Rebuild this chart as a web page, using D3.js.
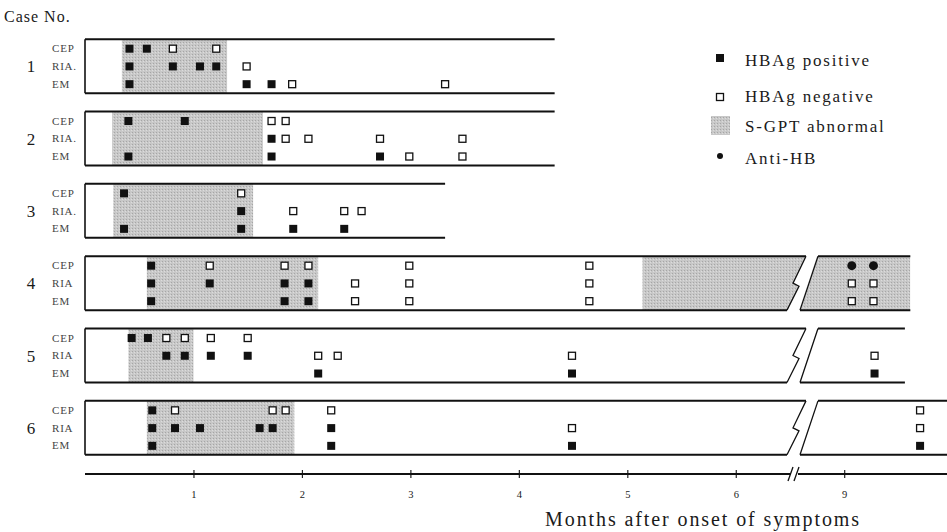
<!DOCTYPE html>
<html>
<head>
<meta charset="utf-8">
<script src="https://cdn.jsdelivr.net/npm/d3@7"></script>
<style>
  body { margin: 0; background: #fff; }
  svg { display: block; }
  text { font-family: "Liberation Serif", "DejaVu Serif", serif; fill: #1a1a1a; }
</style>
</head>
<body>
<svg id="chart" width="947" height="532"></svg>
<script>
// case data, months after onset
var cases = [1, 2, 3, 4, 5, 6];
var rows = ["CEP", "RIA", "EM"];
var rowLabels = [["CEP", "RIA.", "EM"], ["CEP", "RIA.", "EM"], ["CEP", "RIA.", "EM"],
                 ["CEP", "RIA", "EM"], ["CEP", "RIA", "EM"], ["CEP", "RIA", "EM"]];
var panelEnd = [4.33, 4.33, 3.32, 9.61, 9.56, 10.2];
var hasBreak = [false, false, false, true, true, true];
var tickMonths = [1, 2, 3, 4, 5, 6, 9];

// S-GPT abnormal periods [case, from, to]
var sgpt = [
    [1, 0.34, 1.31],
    [2, 0.25, 1.64],
    [3, 0.26, 1.55],
    [4, 0.57, 2.15], [4, 5.14, 6.8], [4, 8.3, 9.61],
    [5, 0.40, 1.00],
    [6, 0.57, 1.93]
];

// HBAg positive [case, row, month]
var positive = [
    [1, "CEP", 0.41], [1, "CEP", 0.57],
    [1, "RIA", 0.41], [1, "RIA", 0.81], [1, "RIA", 1.06], [1, "RIA", 1.21],
    [1, "EM", 0.41], [1, "EM", 1.49], [1, "EM", 1.72],
    [2, "CEP", 0.40], [2, "CEP", 0.92],
    [2, "RIA", 1.72],
    [2, "EM", 0.40], [2, "EM", 1.72], [2, "EM", 2.72],
    [3, "CEP", 0.36],
    [3, "RIA", 1.44],
    [3, "EM", 0.36], [3, "EM", 1.44], [3, "EM", 1.92], [3, "EM", 2.39],
    [4, "CEP", 0.61],
    [4, "RIA", 0.61], [4, "RIA", 1.15], [4, "RIA", 1.84], [4, "RIA", 2.06],
    [4, "EM", 0.61], [4, "EM", 1.84], [4, "EM", 2.06],
    [5, "CEP", 0.43], [5, "CEP", 0.58],
    [5, "RIA", 0.75], [5, "RIA", 0.92], [5, "RIA", 1.16], [5, "RIA", 1.50],
    [5, "EM", 2.15], [5, "EM", 4.49], [5, "EM", 9.28],
    [6, "CEP", 0.62],
    [6, "RIA", 0.62], [6, "RIA", 0.83], [6, "RIA", 1.06], [6, "RIA", 1.61], [6, "RIA", 1.73], [6, "RIA", 2.27],
    [6, "EM", 0.62], [6, "EM", 2.27], [6, "EM", 4.49], [6, "EM", 9.70]
];

// HBAg negative [case, row, month]
var negative = [
    [1, "CEP", 0.81], [1, "CEP", 1.21],
    [1, "RIA", 1.49],
    [1, "EM", 1.91], [1, "EM", 3.32],
    [2, "CEP", 1.72], [2, "CEP", 1.85],
    [2, "RIA", 1.85], [2, "RIA", 2.06], [2, "RIA", 2.72], [2, "RIA", 3.48],
    [2, "EM", 2.99], [2, "EM", 3.48],
    [3, "CEP", 1.44],
    [3, "RIA", 1.92], [3, "RIA", 2.39], [3, "RIA", 2.55],
    [4, "CEP", 1.15], [4, "CEP", 1.84], [4, "CEP", 2.06], [4, "CEP", 2.99], [4, "CEP", 4.65],
    [4, "RIA", 2.49], [4, "RIA", 2.99], [4, "RIA", 4.65], [4, "RIA", 9.07], [4, "RIA", 9.27],
    [4, "EM", 2.49], [4, "EM", 2.99], [4, "EM", 4.65], [4, "EM", 9.07], [4, "EM", 9.27],
    [5, "CEP", 0.75], [5, "CEP", 0.92], [5, "CEP", 1.16], [5, "CEP", 1.50],
    [5, "RIA", 2.15], [5, "RIA", 2.33], [5, "RIA", 4.49], [5, "RIA", 9.28],
    [6, "CEP", 0.83], [6, "CEP", 1.73], [6, "CEP", 1.85], [6, "CEP", 2.27], [6, "CEP", 9.70],
    [6, "RIA", 4.49], [6, "RIA", 9.70]
];

// Anti-HB [case, row, month]
var antiHB = [[4, "CEP", 9.07], [4, "CEP", 9.27]];

var svg = d3.select("#chart");

// broken time axis: 6.5 .. 8.5 months collapsed
var xs = d3.scaleLinear()
    .domain([0, 6.5, 8.5, 11])
    .range([85, 790, 790, 1061]);
var breakX = xs(6.5);

var ys = d3.scaleBand()
    .domain(cases)
    .range([30, 464])
    .paddingInner(0.254)
    .paddingOuter(0.127);

var rowY = d3.scalePoint()
    .domain(rows)
    .range([9.5, 45]);

// grey dotted texture for S-GPT
var defs = svg.append("defs");
var pat = defs.append("pattern")
    .attr("id", "gpt")
    .attr("width", 3).attr("height", 3)
    .attr("patternUnits", "userSpaceOnUse");
pat.append("rect").attr("width", 3).attr("height", 3).attr("fill", "#c8c8c8");
pat.append("rect").attr("x", 0).attr("y", 0).attr("width", 1).attr("height", 1).attr("fill", "#a6a6a6");
pat.append("rect").attr("x", 2).attr("y", 1).attr("width", 1).attr("height", 1).attr("fill", "#dcdcdc");

function panelPolys(i) {
    var c = cases[i],
        T = ys(c), B = T + ys.bandwidth(), M = (T + B) / 2,
        endX = xs(panelEnd[i]);
    if (!hasBreak[i]) {
        return [[[85, T], [endX, T], [endX, B], [85, B]]];
    }
    return [
        [[85, T], [breakX + 16, T], [breakX + 3, M], [breakX + 9, M + 3], [breakX - 3, B], [85, B]],
        [[breakX + 28, T], [endX, T], [endX, B], [breakX + 10, B]]
    ];
}

var line = d3.line();

cases.forEach(function (c, i) {
    var T = ys(c), B = T + ys.bandwidth(), M = (T + B) / 2;
    var polys = panelPolys(i);
    var g = svg.append("g").attr("class", "case");

    var clip = defs.append("clipPath").attr("id", "clip" + c);
    polys.forEach(function (p) {
        clip.append("path").attr("d", line(p) + "Z");
    });

    g.selectAll("rect.gpt")
        .data(sgpt.filter(function (d) { return d[0] === c; }))
        .enter().append("rect")
        .attr("class", "gpt")
        .attr("clip-path", "url(#clip" + c + ")")
        .attr("x", function (d) { return xs(d[1]); })
        .attr("width", function (d) { return xs(d[2]) - xs(d[1]); })
        .attr("y", T)
        .attr("height", B - T)
        .attr("fill", "url(#gpt)");

    // outlines: top, bottom, left, break edges
    polys.forEach(function (p, k) {
        var n = p.length;
        g.append("path").attr("d", line([p[0], p[1]]))
            .attr("stroke", "#111").attr("stroke-width", 2).attr("fill", "none");
        g.append("path").attr("d", line([p[n - 1], p[n - 2]]))
            .attr("stroke", "#111").attr("stroke-width", 2).attr("fill", "none");
        if (k === 0) {
            g.append("path").attr("d", line([p[0], p[n - 1]]))
                .attr("stroke", "#111").attr("stroke-width", 1.6).attr("fill", "none");
            if (hasBreak[i]) {
                g.append("path").attr("d", line(p.slice(1, n - 1)))
                    .attr("stroke", "#111").attr("stroke-width", 1.3).attr("fill", "none");
            }
        } else {
            g.append("path").attr("d", line([p[0], p[3]]))
                .attr("stroke", "#111").attr("stroke-width", 1.3).attr("fill", "none");
        }
    });

    // labels
    svg.append("text")
        .attr("x", 31).attr("y", M + 6)
        .attr("text-anchor", "middle")
        .attr("font-size", 17)
        .text(c);
    svg.selectAll(null)
        .data(rows)
        .enter().append("text")
        .attr("x", 52)
        .attr("y", function (r) { return T + rowY(r) + 3.5; })
        .attr("font-size", 11)
        .attr("letter-spacing", 0.8)
        .style("fill", "#444")
        .text(function (r, j) { return rowLabels[i][j]; });
});

function markY(d) { return ys(d[0]) + rowY(d[1]); }

svg.append("g").selectAll("rect")
    .data(positive)
    .enter().append("rect")
    .attr("x", function (d) { return xs(d[2]) - 4; })
    .attr("y", function (d) { return markY(d) - 4; })
    .attr("width", 8).attr("height", 8)
    .attr("fill", "#111");

svg.append("g").selectAll("rect")
    .data(negative)
    .enter().append("rect")
    .attr("x", function (d) { return xs(d[2]) - 3.5; })
    .attr("y", function (d) { return markY(d) - 3.5; })
    .attr("width", 7).attr("height", 7)
    .attr("fill", "#fff")
    .attr("stroke", "#111")
    .attr("stroke-width", 1.3);

svg.append("g").selectAll("circle")
    .data(antiHB)
    .enter().append("circle")
    .attr("cx", function (d) { return xs(d[2]); })
    .attr("cy", markY)
    .attr("r", 4.5)
    .attr("fill", "#111");

// axis with break
var axisY = 474;
var axisG = svg.append("g")
    .attr("transform", "translate(0," + (axisY - 4) + ")")
    .call(d3.axisBottom(xs).tickValues(tickMonths).tickSize(8).tickPadding(13).tickFormat(d3.format("d")));
axisG.select(".domain").remove();
axisG.selectAll(".tick line").attr("stroke", "#222").attr("stroke-width", 1.2);
axisG.selectAll(".tick text")
    .attr("font-family", "Liberation Serif, serif")
    .attr("font-size", 10.5)
    .attr("fill", "#444");

svg.append("path").attr("d", line([[85, axisY], [breakX + 1, axisY]]))
    .attr("stroke", "#111").attr("stroke-width", 1.8);
svg.append("path").attr("d", line([[breakX + 8, axisY], [947, axisY]]))
    .attr("stroke", "#111").attr("stroke-width", 1.8);
[0, 6].forEach(function (o) {
    svg.append("path")
        .attr("d", line([[breakX - 2 + o, axisY + 7], [breakX + 3 + o, axisY - 7]]))
        .attr("stroke", "#111").attr("stroke-width", 1.3);
});

svg.append("text")
    .attr("x", 703).attr("y", 526)
    .attr("text-anchor", "middle")
    .attr("font-size", 20)
    .attr("letter-spacing", 1.9)
    .text("Months after onset of symptoms");

svg.append("text")
    .attr("x", 4).attr("y", 22)
    .attr("font-size", 16)
    .attr("letter-spacing", 1)
    .text("Case No.");

// legend
var lg = svg.append("g").attr("class", "legend");
var lx = 720, tx = 745;
lg.append("rect").attr("x", lx - 4).attr("y", 54).attr("width", 8).attr("height", 8).attr("fill", "#111");
lg.append("rect").attr("x", lx - 3.5).attr("y", 93.5).attr("width", 7).attr("height", 7)
    .attr("fill", "#fff").attr("stroke", "#111").attr("stroke-width", 1.3);
lg.append("rect").attr("x", lx - 9).attr("y", 116).attr("width", 19).attr("height", 19).attr("fill", "url(#gpt)");
lg.append("circle").attr("cx", lx).attr("cy", 156).attr("r", 3).attr("fill", "#111");

var legendText = ["HBAg positive", "HBAg negative", "S-GPT abnormal", "Anti-HB"];
var legendY = [66, 102, 132, 164];
lg.selectAll("text")
    .data(legendText)
    .enter().append("text")
    .attr("x", tx)
    .attr("y", function (d, i) { return legendY[i]; })
    .attr("font-size", 17)
    .attr("letter-spacing", 1.8)
    .text(function (d) { return d; });
</script>
</body>
</html>
